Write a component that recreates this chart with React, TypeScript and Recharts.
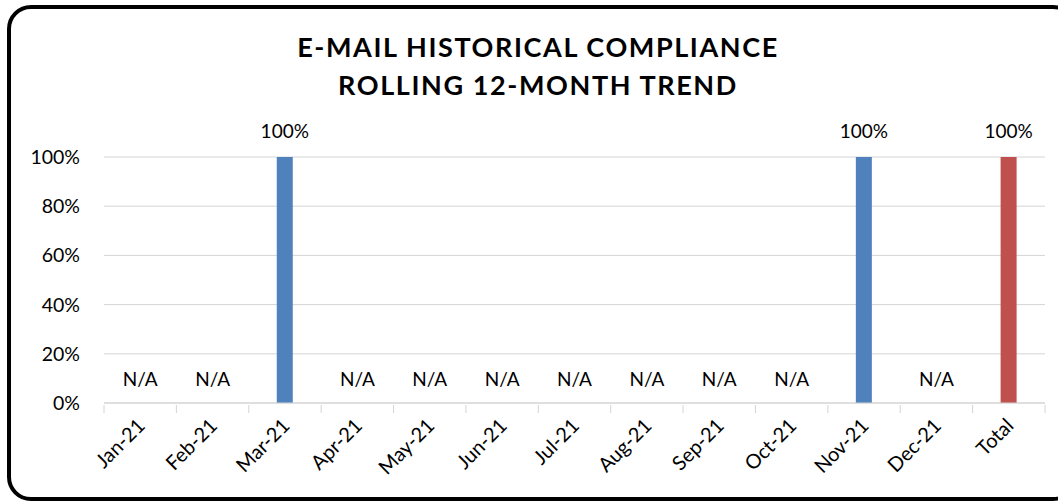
import React from 'react';
import { BarChart, Bar, XAxis, YAxis, CartesianGrid, LabelList, Cell } from 'recharts';

const categories = ['Jan-21', 'Feb-21', 'Mar-21', 'Apr-21', 'May-21', 'Jun-21', 'Jul-21', 'Aug-21', 'Sep-21', 'Oct-21', 'Nov-21', 'Dec-21', 'Total'];
// null = N/A (no e-mails reviewed that month)
const compliance: (number | null)[] = [null, null, 1, null, null, null, null, null, null, null, 1, null, 1];
const yTicks = [0, 0.2, 0.4, 0.6, 0.8, 1];

const FONT = 'Lato, "Open Sans", sans-serif';
const TEXT = '#000000';
const MONTH_COLOR = '#4F81BD';
const TOTAL_COLOR = '#C0504D';
const GRID = '#d4d4d4';

const W = 1058;
const H = 501;
const MARGIN = { top: 157, right: 13, bottom: 8, left: 0 };
const Y_AXIS_W = 104;
const BAND = (W - MARGIN.left - MARGIN.right - Y_AXIS_W) / categories.length;

const chartData = categories.map((name, i) => ({
  name,
  value: compliance[i],
}));

const pct = (v: number) => `${Math.round(v * 100)}%`;

// category tick: tick marks sit between categories (Excel style); N/A months get their label here
const XTick = (props: any) => {
  const { x, y, payload, index } = props;
  const half = BAND / 2;
  const axisY = y - 6;
  return (
    <g>
      <line x1={x - half} x2={x - half} y1={axisY} y2={axisY + 8} stroke={GRID} />
      {index === categories.length - 1 && (
        <line x1={x + half} x2={x + half} y1={axisY} y2={axisY + 8} stroke={GRID} />
      )}
      {compliance[index] === null && (
        <text x={x} y={axisY - 19} textAnchor="middle" fontSize={19} fontFamily={FONT} fill={TEXT}>
          N/A
        </text>
      )}
      <text
        x={x + 6}
        y={axisY + 22}
        transform={`rotate(-45, ${x + 6}, ${axisY + 22})`}
        textAnchor="end"
        fontSize={20}
        fontFamily={FONT}
        fill={TEXT}
      >
        {payload.value}
      </text>
    </g>
  );
};

export default function App() {
  return (
    <div style={{ position: 'absolute', left: 0, top: 0, width: W, height: H, overflow: 'hidden', background: '#fff' }}>
      <div
        style={{
          position: 'absolute',
          left: 7,
          top: 5,
          width: 1062,
          height: 488,
          border: '4px solid #000',
          borderRadius: 24,
        }}
      />
      <div
        style={{
          position: 'absolute',
          left: 0,
          top: 28,
          width: 1076,
          textAlign: 'center',
          fontFamily: FONT,
          fontWeight: 700,
          fontSize: 27,
          lineHeight: '38px',
          letterSpacing: 1.6,
          color: TEXT,
        }}
      >
        E-MAIL HISTORICAL COMPLIANCE
        <br />
        ROLLING 12-MONTH TREND
      </div>
      <BarChart width={W} height={H} data={chartData} margin={MARGIN} barSize={16}>
        <CartesianGrid horizontal vertical={false} stroke={GRID} />
        <XAxis
          dataKey="name"
          interval={0}
          height={90}
          axisLine={{ stroke: GRID }}
          tickLine={false}
          tick={<XTick />}
        />
        <YAxis
          width={Y_AXIS_W}
          domain={[0, 1]}
          ticks={yTicks}
          tickFormatter={pct}
          axisLine={false}
          tickLine={false}
          tickSize={0}
          tickMargin={24}
          tick={{ fontSize: 19.5, fontFamily: FONT, fill: TEXT }}
        />
        <Bar dataKey="value" isAnimationActive={false}>
          {chartData.map((d) => (
            <Cell key={d.name} fill={d.name === 'Total' ? TOTAL_COLOR : MONTH_COLOR} />
          ))}
          <LabelList
            dataKey="value"
            position="top"
            offset={19}
            formatter={(v: any) => (v == null ? '' : pct(Number(v)))}
            style={{ fontSize: 19, fontFamily: FONT, fill: TEXT }}
          />
        </Bar>
      </BarChart>
    </div>
  );
}
